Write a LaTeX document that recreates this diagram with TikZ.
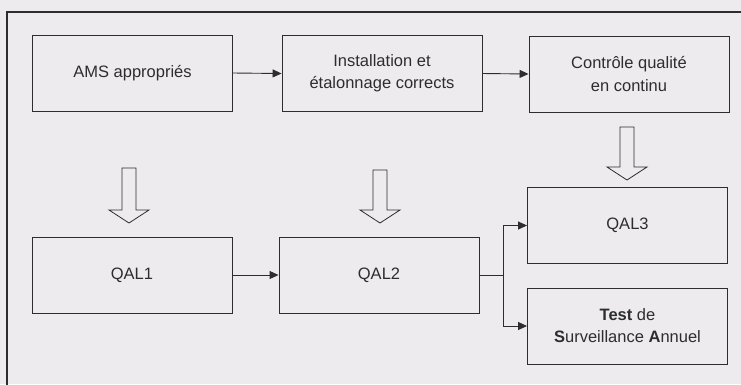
\documentclass[tikz,border=0pt]{standalone}
\usepackage{fontspec}
\setmainfont{Liberation Sans}
\usetikzlibrary{arrows.meta,calc}
\definecolor{bg}{RGB}{237,235,238}
\definecolor{ink}{RGB}{45,45,48}
\begin{document}
\begin{tikzpicture}[x=1pt,y=-1pt,
  box/.style={draw=ink,line width=0.9pt,minimum width=200pt,minimum height=76pt,
    align=center,text=ink,font=\fontsize{16.5}{22}\selectfont,inner sep=0pt},
  conn/.style={draw=ink,line width=0.9pt,-{Triangle[length=9pt,width=8pt]}},
  hollow/.style={draw=ink,line width=0.8pt,fill=bg,line join=miter}]
\useasboundingbox (0,0) rectangle (741,384);
\fill[bg] (0,0) rectangle (741,384);
\draw[ink,line width=1.3pt] (7,12) rectangle (760,400);
% nodes
\node[box] (ams)  at (132.5,73) {AMS appropriés};
\node[box] (inst) at (382,73.5) {Installation et\\étalonnage corrects};
\node[box] (ctrl) at (629,74) {Contrôle qualité\\en continu};
\node[box] (qal1) at (132,275) {QAL1};
\node[box] (qal2) at (379,275) {QAL2};
\node[box] (qal3) at (627.5,225.5) {QAL3};
\node[box] (test) at (627.5,326) {\textbf{Test} de\\\textbf{S}urveillance \textbf{A}nnuel};
% connectors
\draw[conn] (ams.east) -- (inst.west);
\draw[conn] (inst.east) -- (ctrl.west);
\draw[conn] (qal1.east) -- (qal2.west);
\coordinate (br) at ($(qal2.east)+(24,0)$);
\draw[draw=ink,line width=0.9pt] (qal2.east) -- (br);
\draw[conn] (br) |- (qal3.west);
\draw[conn] (br) |- (test.west);
% hollow arrows
\newcommand\harrow[3]{%
  \draw[hollow] (#1-7,#2) -- (#1+7,#2) -- (#1+7,#3-13) -- (#1+20,#3-13) -- (#1,#3)
    -- (#1-20,#3-13) -- (#1-7,#3-13) -- cycle;}
\harrow{129}{168}{223}
\harrow{380}{170}{223}
\harrow{627}{127}{180}
\end{tikzpicture}
\end{document}
